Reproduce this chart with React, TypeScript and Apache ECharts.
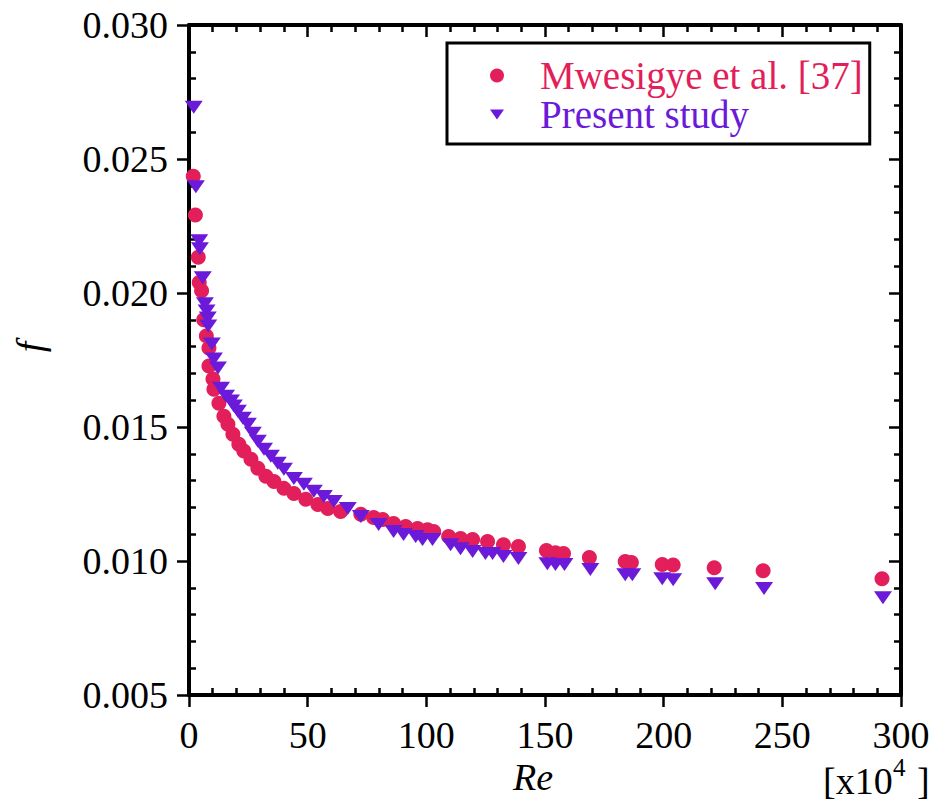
import React, { useEffect, useRef } from "react";
import * as echarts from "echarts";

const reMwesigye = [1.8, 2.7, 3.9, 4.3, 5.3, 6.2, 7.3, 8.4, 8.4, 10.1, 10.5, 12.6, 14.7, 16.4, 18.5, 21.0, 23.1, 26.1, 29.0, 32.4, 35.8, 40.0, 44.2, 49.2, 54.3, 58.5, 63.9, 72.4, 77.8, 81.6, 86.2, 91.3, 96.3, 100.5, 103.1, 109.4, 114.4, 119.5, 125.8, 132.5, 138.8, 150.6, 154.4, 157.8, 168.7, 183.8, 186.4, 199.4, 204.0, 221.3, 241.9, 292.0];
const fMwesigye = [0.02436, 0.02291, 0.02133, 0.02039, 0.02008, 0.0190, 0.0184, 0.01795, 0.01728, 0.01679, 0.01641, 0.01589, 0.0154, 0.0151, 0.01473, 0.01436, 0.0141, 0.0138, 0.01346, 0.01316, 0.01297, 0.01271, 0.01252, 0.0123, 0.01211, 0.01196, 0.01185, 0.01174, 0.01162, 0.01155, 0.0114, 0.01129, 0.01121, 0.01117, 0.0111, 0.01091, 0.01084, 0.0108, 0.01073, 0.01061, 0.01054, 0.01039, 0.01031, 0.01028, 0.01013, 0.00998, 0.00994, 0.00987, 0.00985, 0.00975, 0.00964, 0.00934];

const rePresent = [2.0, 2.9, 4.3, 4.6, 5.8, 6.7, 7.4, 7.9, 8.1, 9.6, 10.5, 12.2, 13.5, 15.6, 17.7, 18.9, 20.6, 22.7, 24.8, 26.9, 29.0, 31.6, 34.5, 37.4, 40.0, 44.2, 48.4, 52.6, 56.8, 61.0, 66.9, 72.4, 79.9, 86.2, 90.4, 95.5, 98.4, 102.6, 110.2, 114.4, 119.5, 124.9, 127.9, 132.5, 138.8, 151.0, 154.4, 158.2, 169.1, 183.8, 186.8, 199.4, 204.0, 221.7, 242.3, 292.4];
const fPresent = [0.02693, 0.02396, 0.02195, 0.02165, 0.02057, 0.0196, 0.01933, 0.01907, 0.01877, 0.0181, 0.01754, 0.0172, 0.01645, 0.01615, 0.01597, 0.01578, 0.01559, 0.01533, 0.0151, 0.01477, 0.01447, 0.01417, 0.01391, 0.01365, 0.01342, 0.01308, 0.01286, 0.0126, 0.01241, 0.01222, 0.01196, 0.01166, 0.01136, 0.0111, 0.01099, 0.01091, 0.0108, 0.0108, 0.01061, 0.01046, 0.01035, 0.01028, 0.01028, 0.01017, 0.01009, 0.0099, 0.00987, 0.00987, 0.00968, 0.00949, 0.00949, 0.00934, 0.0093, 0.00915, 0.00897, 0.00863];

const seriesNames = ["Mwesigye et al. [37]", "Present study"];
const xMin = 0, xMax = 300, xStep = 50;
const yMin = 0.005, yMax = 0.030, yStep = 0.005;

const RED = "#E21F5A";
const PURPLE = "#6A1AD8";
const FONT = "Liberation Serif";
const TRI = "path://M0,0L18,0L9,13Z";

const W = 934, H = 803;
const G = { left: 189, right: 33, top: 25, bottom: 108 };

export default function App() {
  const ref = useRef<HTMLDivElement>(null);
  useEffect(() => {
    if (!ref.current) return;
    const chart = echarts.init(ref.current, null, { renderer: "svg" });
    const line = { show: true, onZero: false, lineStyle: { color: "#000", width: 4 } };
    const noLine = { show: false, onZero: false };
    const baseX = { type: "value", min: xMin, max: xMax, interval: xStep, splitLine: { show: false } };
    const baseY = { type: "value", min: yMin, max: yMax, interval: yStep, splitLine: { show: false } };
    const tickStyle = { color: "#000", width: 2.5 };
    const labelStyle = { color: "#000", fontFamily: FONT, fontSize: 38 };
    const minor = { show: true, splitNumber: 5, length: 7, lineStyle: tickStyle };
    const option: any = {
      animation: false,
      backgroundColor: "#fff",
      grid: { ...G },
      xAxis: [
        {
          ...baseX, position: "bottom", axisLine: line,
          axisTick: { show: true, inside: false, length: 12, lineStyle: tickStyle },
          axisLabel: { show: true, margin: 21, ...labelStyle },
        },
        {
          ...baseX, position: "bottom", axisLine: noLine,
          axisTick: { show: false, inside: true },
          minorTick: minor,
          axisLabel: { show: false },
        },
        {
          ...baseX, position: "top", axisLine: line,
          axisTick: { show: true, inside: true, length: 12, lineStyle: tickStyle },
          minorTick: minor,
          axisLabel: { show: false },
        },
      ],
      yAxis: [
        {
          ...baseY, position: "left", axisLine: line,
          axisTick: { show: true, inside: false, length: 12, lineStyle: tickStyle },
          axisLabel: { show: true, margin: 21, ...labelStyle, formatter: (v: number) => v.toFixed(3) },
        },
        {
          ...baseY, position: "left", axisLine: noLine,
          axisTick: { show: false, inside: true },
          minorTick: minor,
          axisLabel: { show: false },
        },
        {
          ...baseY, position: "right", axisLine: line,
          axisTick: { show: true, inside: true, length: 12, lineStyle: tickStyle },
          minorTick: minor,
          axisLabel: { show: false },
        },
      ],
      legend: {
        orient: "vertical",
        left: 447,
        top: 43,
        padding: [13, 7, 10, 43],
        borderColor: "#000",
        borderWidth: 3,
        itemWidth: 14,
        itemHeight: 14,
        itemGap: 0,
        selectedMode: false,
        textStyle: { fontFamily: FONT, fontSize: 39, lineHeight: 38, padding: [0, 0, 0, 31] },
        data: [
          { name: seriesNames[0], textStyle: { color: RED } },
          { name: seriesNames[1], textStyle: { color: PURPLE } },
        ],
      },
      graphic: [
        {
          type: "text", x: 30, y: 347, rotation: Math.PI / 2,
          style: { text: "f", fontFamily: FONT, fontStyle: "italic", fontSize: 38, fill: "#000", align: "center", verticalAlign: "middle" },
        },
        {
          type: "text", x: 533, y: 777,
          style: { text: "Re", fontFamily: FONT, fontStyle: "italic", fontSize: 38, fill: "#000", align: "center", verticalAlign: "middle" },
        },
        {
          type: "text", x: 823, y: 781,
          style: { text: "[x10", fontFamily: FONT, fontSize: 38, fill: "#000", align: "left", verticalAlign: "middle" },
        },
        {
          type: "text", x: 893, y: 767,
          style: { text: "4", fontFamily: FONT, fontSize: 25, fill: "#000", align: "left", verticalAlign: "middle" },
        },
        {
          type: "text", x: 917, y: 781,
          style: { text: "]", fontFamily: FONT, fontSize: 38, fill: "#000", align: "left", verticalAlign: "middle" },
        },
      ],
      series: [
        {
          name: seriesNames[0],
          type: "scatter",
          xAxisIndex: 0,
          yAxisIndex: 0,
          symbol: "circle",
          symbolSize: 15,
          itemStyle: { color: RED, opacity: 1 },
          data: reMwesigye.map((x, i) => [x, fMwesigye[i]]),
        },
        {
          name: seriesNames[1],
          type: "scatter",
          xAxisIndex: 0,
          yAxisIndex: 0,
          symbol: TRI,
          symbolSize: [18, 13],
          itemStyle: { color: PURPLE, opacity: 1 },
          data: rePresent.map((x, i) => [x, fPresent[i]]),
        },
      ],
    };
    chart.setOption(option);
    return () => chart.dispose();
  }, []);
  return <div ref={ref} style={{ position: "fixed", left: 0, top: 0, width: W, height: H }} />;
}
